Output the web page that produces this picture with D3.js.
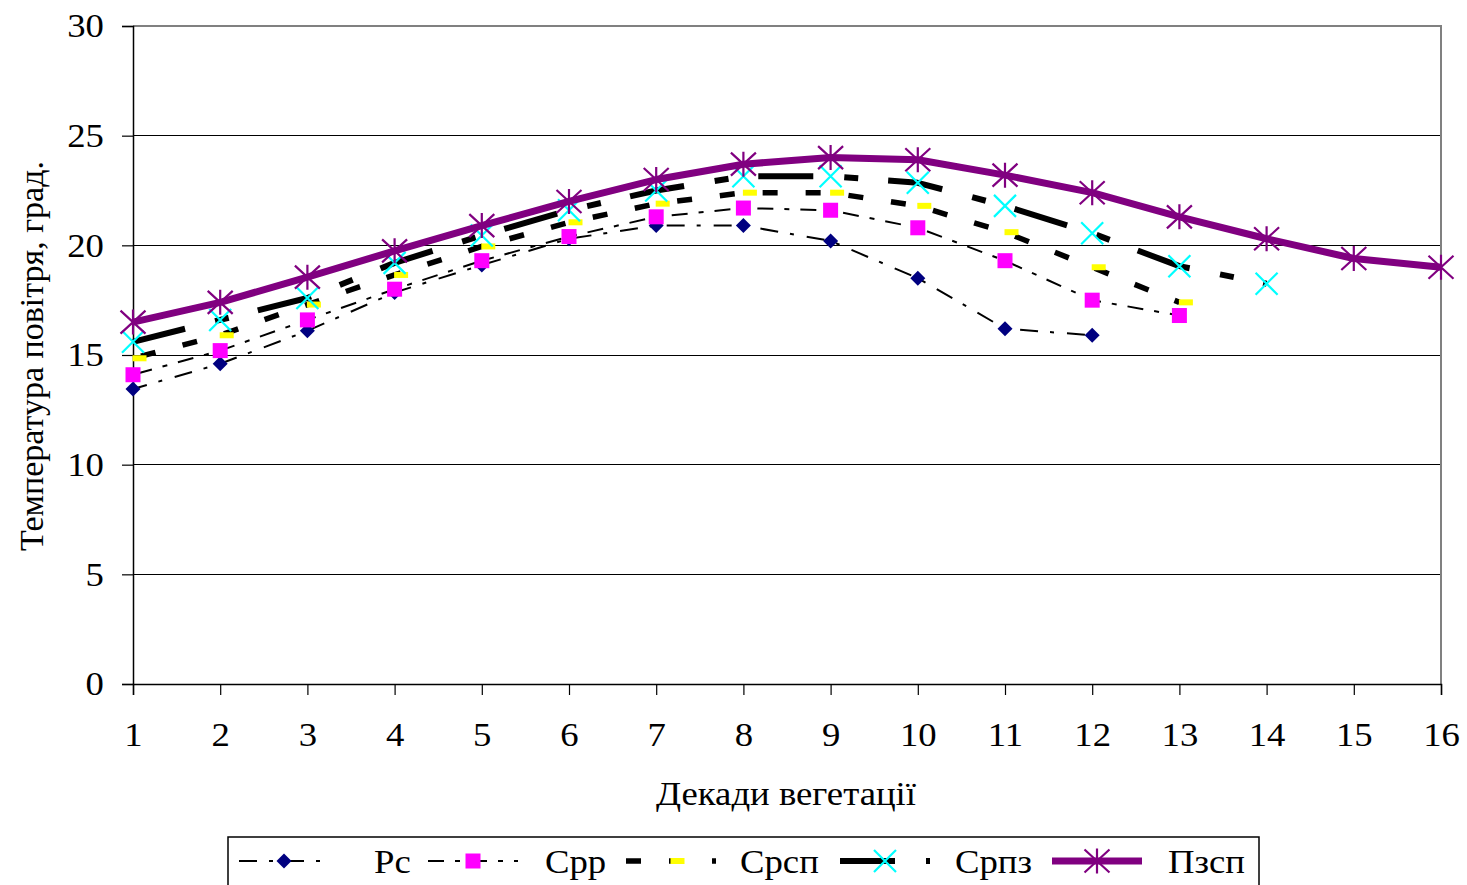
<!DOCTYPE html>
<html>
<head>
<meta charset="utf-8">
<script src="https://cdn.jsdelivr.net/npm/d3@7"></script>
<style>
  body { margin: 0; background: #fff; }
  text { font-family: "Liberation Serif", "Times New Roman", serif; fill: #000; }
</style>
</head>
<body>
<svg id="chart" width="1467" height="885"></svg>
<script>
// Decades of the growing season (x categories)
const decades = d3.range(1, 17);

// Air temperature by decade, °C
const rs   = [13.45, 14.6, 16.1, 17.85, 19.1, 20.3, 20.9, 20.9, 20.2, 18.5, 16.2, 15.9];
const srr  = [14.1, 15.2, 16.6, 18.0, 19.3, 20.4, 21.3, 21.7, 21.6, 20.8, 19.3, 17.5, 16.8];
const srsp = [14.85, 15.9, 17.3, 18.65, 19.95, 21.05, 21.9, 22.4, 22.4, 21.8, 20.6, 19.0, 17.4];
const srpz = [15.6, 16.6, 17.6, 19.2, 20.45, 21.6, 22.5, 23.15, 23.15, 22.85, 21.8, 20.55, 19.05, 18.25];
const pzsp = [16.5, 17.4, 18.55, 19.75, 20.9, 22.0, 23.0, 23.7, 24.0, 23.9, 23.2, 22.4, 21.3, 20.3, 19.4, 19.0];

const seriesNames = ["Рс", "Срр", "Срсп", "Српз", "Пзсп"];
const yTicks = [0, 5, 10, 15, 20, 25, 30];
const xTitle = "Декади вегетації";
const yTitle = "Температура повітря, град.";

const FONT = 34;       // text size
const WIDEN = 1.08;    // horizontal widening of the serif face

// Styling per series
const styles = [
  { values: rs,   stroke: "#000", width: 2,   dash: [18, 12, 4, 13], anchor: [6, 0.12], marker: "diamond", color: "#000080" },
  { values: srr,  stroke: "#000", width: 2,   dash: [16, 11, 5, 11], anchor: [7, 0.16], marker: "square",  color: "#FF00FF" },
  { values: srsp, stroke: "#000", width: 5.5, dash: [15, 28],        anchor: [9, 0.174], marker: "dash",   color: "#FFFF00" },
  { values: srpz, stroke: "#000", width: 6,   dash: [55, 31, 14, 30], anchor: [10, 0.11], marker: "x",     color: "#00FFFF" },
  { values: pzsp, stroke: "#800080", width: 7, dash: null,           anchor: null,      marker: "star",    color: "#800080" }
];

const svg = d3.select("#chart");
const plot = { left: 133, right: 1441, top: 26, bottom: 684 };

const x = d3.scaleLinear().domain([1, 16]).range([plot.left, plot.right]);
const y = d3.scaleLinear().domain([0, 30]).range([plot.bottom, plot.top]);

// Gridlines
svg.append("g")
  .selectAll("line")
  .data(yTicks.filter(v => v > 0 && v < 30))
  .join("line")
  .attr("x1", plot.left).attr("x2", plot.right)
  .attr("y1", d => y(d)).attr("y2", d => y(d))
  .attr("stroke", "#000").attr("stroke-width", 1)
  .attr("shape-rendering", "crispEdges");

// Plot frame (top and right)
svg.append("path")
  .attr("d", `M${plot.left},${plot.top}H${plot.right}V${plot.bottom}`)
  .attr("fill", "none").attr("stroke", "#808080").attr("stroke-width", 2)
  .attr("shape-rendering", "crispEdges");

// Y axis
const yAxis = d3.axisLeft(y).tickValues(yTicks).tickSize(11).tickPadding(16);
const gy = svg.append("g").attr("transform", `translate(${plot.left},0)`).call(yAxis);
gy.attr("font-family", null);
gy.select(".domain").attr("stroke", "#000").attr("stroke-width", 1.5);
gy.selectAll(".tick line").attr("stroke", "#000").attr("stroke-width", 1.2);
gy.selectAll(".tick text")
  .attr("font-size", FONT).attr("fill", "#000")
  .attr("transform", `scale(${WIDEN},1)`);

// X axis
const xAxis = d3.axisBottom(x).tickValues(decades).tickFormat(d3.format("d")).tickSize(11).tickPadding(27);
const gx = svg.append("g").attr("transform", `translate(0,${plot.bottom})`).call(xAxis);
gx.attr("font-family", null);
gx.select(".domain").attr("stroke", "#000").attr("stroke-width", 1.5);
gx.selectAll(".tick line").attr("stroke", "#000").attr("stroke-width", 1.2);
gx.selectAll(".tick text")
  .attr("font-size", FONT).attr("fill", "#000")
  .attr("transform", `scale(${WIDEN},1)`);

// Axis titles
svg.append("text")
  .attr("transform", `translate(${(plot.left + plot.right) / 2 - 1},805) scale(${WIDEN},1)`)
  .attr("text-anchor", "middle").attr("font-size", FONT)
  .text(xTitle);

svg.append("text")
  .attr("transform", `translate(43,${(plot.top + plot.bottom) / 2 + 1}) rotate(-90)`)
  .attr("text-anchor", "middle").attr("font-size", FONT)
  .text(yTitle);

// Length along a polyline up to fraction t of segment k
function lengthTo(pts, k, t) {
  let L = 0;
  for (let i = 0; i < k; i++) L += Math.hypot(pts[i + 1][0] - pts[i][0], pts[i + 1][1] - pts[i][1]);
  return L + t * Math.hypot(pts[k + 1][0] - pts[k][0], pts[k + 1][1] - pts[k][1]);
}

// Marker shapes
function drawMarker(g, kind, cx, cy, color) {
  if (kind === "diamond") {
    const r = 7.5;
    g.append("path").attr("d", `M${cx},${cy - r}L${cx + r},${cy}L${cx},${cy + r}L${cx - r},${cy}Z`)
      .attr("fill", color);
  } else if (kind === "square") {
    const s = 15;
    g.append("rect").attr("x", cx - s / 2).attr("y", cy - s / 2).attr("width", s).attr("height", s)
      .attr("fill", color);
  } else if (kind === "dash") {
    g.append("rect").attr("x", cx - 0.5).attr("y", cy - 3).attr("width", 14).attr("height", 6)
      .attr("fill", color);
  } else if (kind === "x") {
    const r = 11;
    g.append("path").attr("d", `M${cx - r},${cy - r}L${cx + r},${cy + r}M${cx - r},${cy + r}L${cx + r},${cy - r}`)
      .attr("stroke", color).attr("stroke-width", 2.2).attr("fill", "none");
  } else if (kind === "star") {
    const r = 12.5;
    g.append("path").attr("d",
      `M${cx - r},${cy - r * 0.92}L${cx + r},${cy + r * 0.92}M${cx - r},${cy + r * 0.92}L${cx + r},${cy - r * 0.92}M${cx},${cy - r}L${cx},${cy + r}`)
      .attr("stroke", color).attr("stroke-width", 2.2).attr("fill", "none");
  }
}

const line = d3.line().x(d => d[0]).y(d => d[1]);

// Series lines with markers, drawn in series order
styles.forEach(s => {
  const g = svg.append("g");
  const pts = s.values.map((v, i) => [x(decades[i]), y(v)]);
  const p = g.append("path").datum(pts)
    .attr("d", line)
    .attr("fill", "none").attr("stroke", s.stroke).attr("stroke-width", s.width)
    .attr("stroke-linejoin", "round").attr("stroke-linecap", "butt");
  if (s.dash) {
    const period = d3.sum(s.dash);
    const L = lengthTo(pts, s.anchor[0], s.anchor[1]);
    p.attr("stroke-dasharray", s.dash.join(","))
     .attr("stroke-dashoffset", period - (L % period));
  }
  pts.forEach(([cx, cy]) => drawMarker(g, s.marker, cx, cy, s.color));
});

// Legend
const legendBox = { x: 228, y: 837, w: 1031, h: 60 };
svg.append("rect")
  .attr("x", legendBox.x).attr("y", legendBox.y).attr("width", legendBox.w).attr("height", legendBox.h)
  .attr("fill", "#fff").attr("stroke", "#000").attr("stroke-width", 1.5);

const legendMarkerX = [284, 473, 671, 885, 1097];
const legendTextX = [374, 545, 740, 955, 1168];
const legendY = 861;

styles.forEach((s, i) => {
  const g = svg.append("g");
  const cx = legendMarkerX[i];
  const pts = [[cx - 45, legendY], [cx + 45, legendY]];
  const p = g.append("path").datum(pts).attr("d", line)
    .attr("fill", "none").attr("stroke", s.stroke).attr("stroke-width", s.width)
    .attr("stroke-linecap", "butt");
  if (s.dash) p.attr("stroke-dasharray", s.dash.join(","));
  drawMarker(g, s.marker, cx, legendY, s.color);
  g.append("text")
    .attr("transform", `translate(${legendTextX[i]},${legendY + 12}) scale(${WIDEN},1)`)
    .attr("font-size", FONT).text(seriesNames[i]);
});
</script>
</body>
</html>
